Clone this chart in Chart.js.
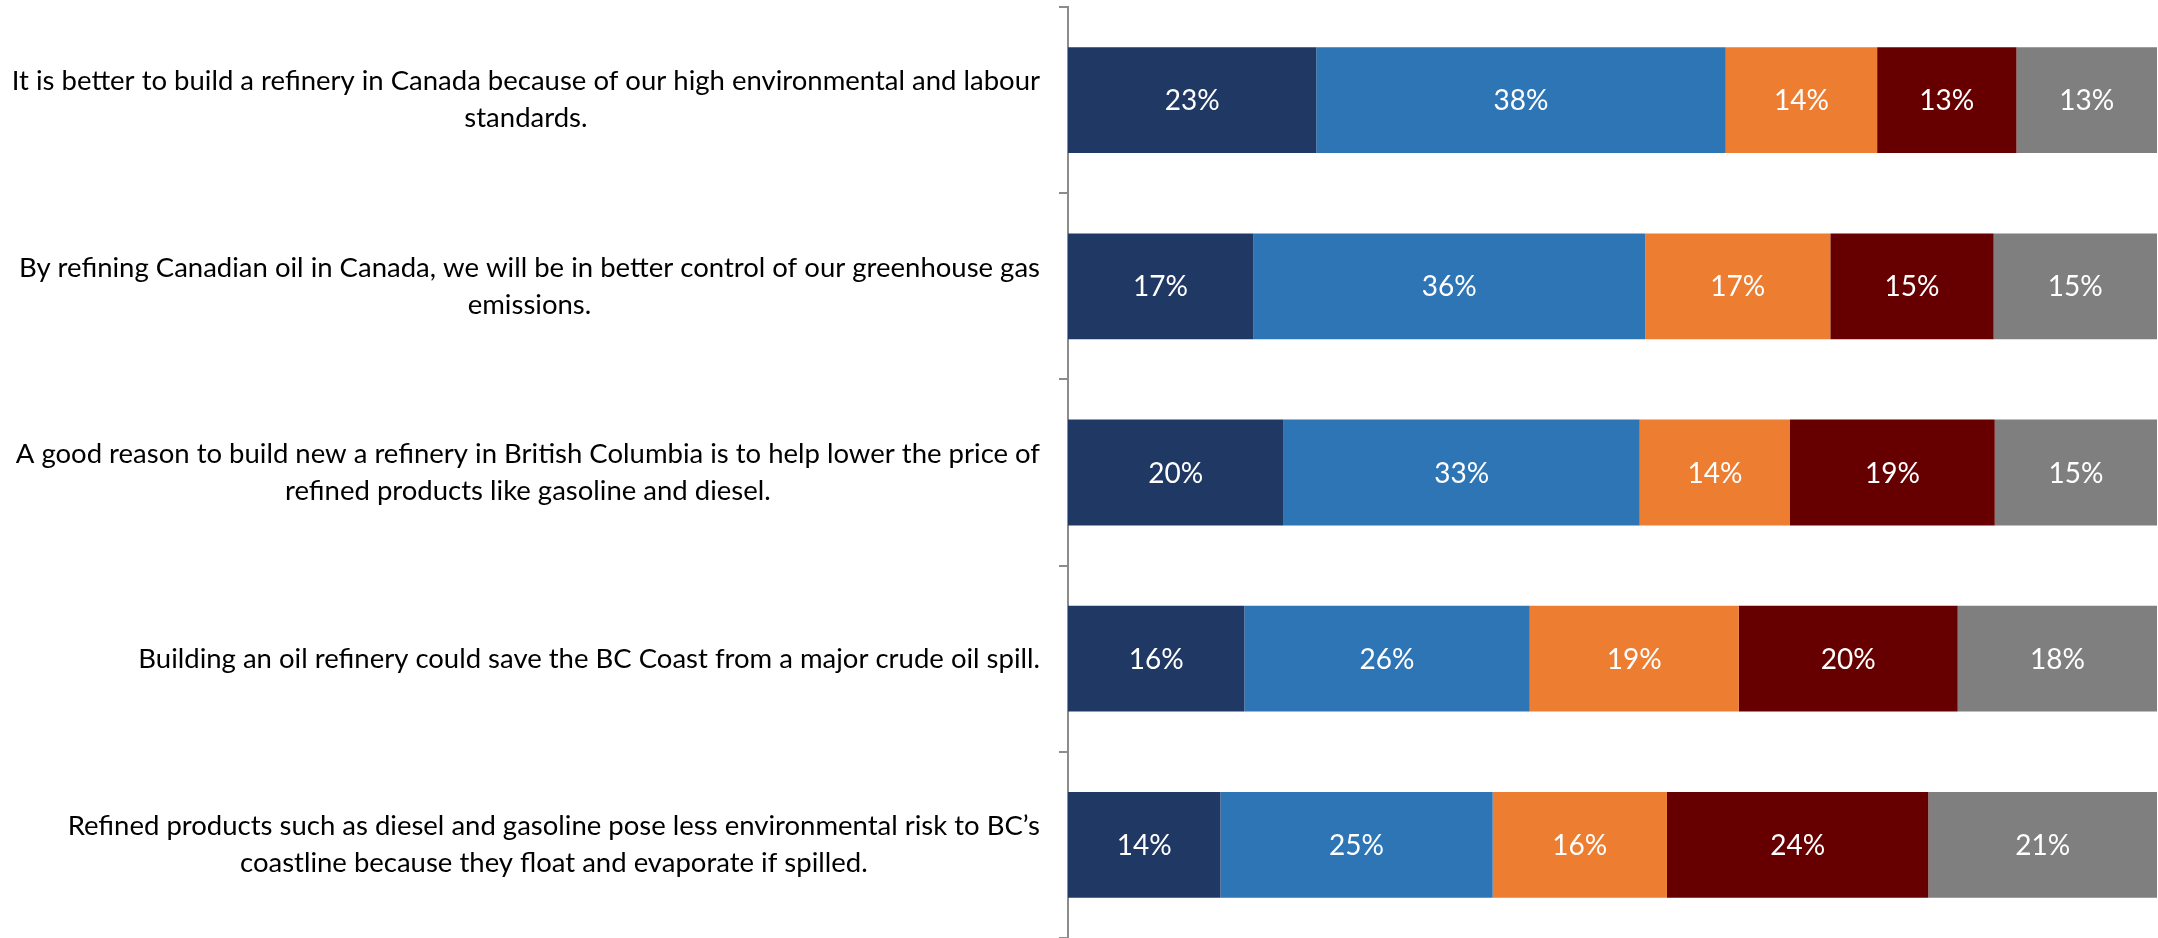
<!DOCTYPE html>
<html lang="en">
<head>
    <meta charset="UTF-8">
    <title>Refinery attitudes</title>
    <script src="https://cdn.jsdelivr.net/npm/chart.js"></script>
    <style>
        html, body { margin: 0; padding: 0; background: #fff; }
        #wrap { width: 2158px; height: 938px; }
    </style>
</head>
<body>
    <div id="wrap"><canvas id="refChart" width="2158" height="938"></canvas></div>
    <script>
        var statements = [
            ['It is better to build a refinery in Canada because of our high environmental and labour', 'standards.'],
            ['By refining Canadian oil in Canada, we will be in better control of our greenhouse gas', 'emissions.'],
            ['A good reason to build new a refinery in British Columbia is to help lower the price of', 'refined products like gasoline and diesel.'],
            ['Building an oil refinery could save the BC Coast from a major crude oil spill.'],
            ['Refined products such as diesel and gasoline pose less environmental risk to BC\u2019s', 'coastline because they float and evaporate if spilled.']
        ];
        var stronglyAgree    = [22.8, 17.0, 19.8, 16.2, 14.0];
        var somewhatAgree    = [37.6, 36.0, 32.7, 26.2, 25.0];
        var somewhatDisagree = [13.9, 17.0, 13.8, 19.2, 16.0];
        var stronglyDisagree = [12.8, 15.0, 18.8, 20.1, 24.0];
        var notSure          = [12.9, 15.0, 14.9, 18.3, 21.0];

        var colors = ['#203864', '#2E75B6', '#ED7D31', '#660000', '#7F7F7F'];
        var fontFamily = 'Lato';

        // category text: each block right-aligned, lines centred inside it
        var labelPlugin = {
            id: 'labelPlugin',
            afterDraw: function (chart) {
                var ctx = chart.ctx;
                var yScale = chart.scales.y;
                var right = chart.chartArea.left - 28;
                var lineH = 37;
                ctx.save();
                ctx.font = '27.5px ' + fontFamily;
                ctx.fillStyle = '#000';
                ctx.textAlign = 'center';
                ctx.textBaseline = 'middle';
                for (var i = 0; i < statements.length; i++) {
                    var lines = statements[i];
                    var maxW = 0;
                    lines.forEach(function (l) { maxW = Math.max(maxW, ctx.measureText(l).width); });
                    var cx = right - maxW / 2;
                    var cy = yScale.getPixelForValue(i);
                    var y0 = cy - (lines.length - 1) * lineH / 2;
                    for (var j = 0; j < lines.length; j++) {
                        ctx.fillText(lines[j], cx, y0 + j * lineH);
                    }
                }
                ctx.restore();
            }
        };

        // white percentage in each segment
        var valuePlugin = {
            id: 'valuePlugin',
            afterDatasetsDraw: function (chart) {
                var ctx = chart.ctx;
                ctx.save();
                ctx.font = '28px ' + fontFamily;
                ctx.fillStyle = '#fff';
                ctx.textAlign = 'center';
                ctx.textBaseline = 'middle';
                chart.data.datasets.forEach(function (ds, di) {
                    var meta = chart.getDatasetMeta(di);
                    meta.data.forEach(function (bar, i) {
                        var x = (bar.x + bar.base) / 2;
                        ctx.fillText(Math.round(ds.data[i]) + '%', x, bar.y + 1);
                    });
                });
                ctx.restore();
            }
        };

        function makeSet(label, data, color) {
            return {
                label: label,
                data: data,
                backgroundColor: color,
                borderWidth: 0,
                categoryPercentage: 1.0,
                barPercentage: 0.568
            };
        }

        const ctx = document.getElementById('refChart').getContext('2d');
        const refChart = new Chart(ctx, {
            type: 'bar',
            data: {
                labels: statements,
                datasets: [
                    makeSet('Strongly agree', stronglyAgree, colors[0]),
                    makeSet('Somewhat agree', somewhatAgree, colors[1]),
                    makeSet('Somewhat disagree', somewhatDisagree, colors[2]),
                    makeSet('Strongly disagree', stronglyDisagree, colors[3]),
                    makeSet('Not sure', notSure, colors[4])
                ]
            },
            options: {
                indexAxis: 'y',
                responsive: false,
                animation: false,
                layout: { padding: { top: 7, right: 1, bottom: 0, left: 0 } },
                plugins: {
                    legend: { display: false },
                    tooltip: { enabled: false }
                },
                scales: {
                    x: {
                        stacked: true,
                        min: 0,
                        max: 100,
                        display: false
                    },
                    y: {
                        stacked: true,
                        offset: true,
                        ticks: { display: false },
                        grid: {
                            offset: true,
                            drawOnChartArea: false,
                            drawTicks: true,
                            tickLength: 9,
                            color: '#8c8c8c',
                            lineWidth: 2
                        },
                        border: { display: true, color: '#8c8c8c', width: 2 },
                        afterFit: function (scale) { scale.width = 1068; }
                    }
                }
            },
            plugins: [labelPlugin, valuePlugin]
        });
    </script>
</body>
</html>
